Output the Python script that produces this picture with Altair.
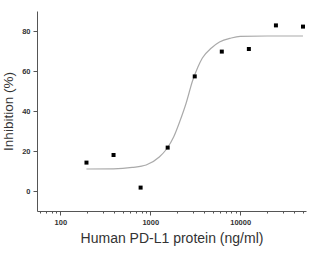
import altair as alt
import pandas as pd

# measured points
conc = [195.3, 390.6, 781.25, 1562.5, 3125, 6250, 12500, 25000, 50000]
inhib = [14.2, 18.0, 1.7, 21.7, 57.3, 69.7, 71.0, 82.8, 82.2]

# fitted curve
curve_x = [195, 390, 630, 900, 1260, 1520, 1820, 2140, 2510, 2950, 3390, 3800, 4790, 5890, 7940, 10000, 20000, 50000]
curve_y = [11.0, 11.1, 11.8, 13.0, 17.0, 21.0, 27.0, 35.0, 44.0, 55.0, 62.0, 66.5, 71.5, 74.5, 76.5, 77.3, 77.5, 77.5]

x_ticks = [m * 10 ** e for e in (1, 2, 3, 4) for m in range(1, 10) if 55 <= m * 10 ** e <= 54000]
y_ticks = [0, 10, 20, 30, 40, 50, 60, 70, 80]

pts = pd.DataFrame({"x": conc, "y": inhib})
crv = pd.DataFrame({"x": curve_x, "y": curve_y})

FONT = "Liberation Sans"
xscale = alt.Scale(type="log", domain=[55, 54000], nice=False)
yscale = alt.Scale(domain=[-10, 90], nice=False, zero=False)

xaxis = alt.Axis(
    title="Human PD-L1 protein (ng/ml)",
    values=x_ticks,
    labelExpr="(datum.value == 100 || datum.value == 1000 || datum.value == 10000) ? datum.label : ''",
    format="d",
    grid=False,
    domainColor="#555",
    tickColor="#555",
    tickSize={"condition": {"test": "datum.value == 100 || datum.value == 1000 || datum.value == 10000", "value": 4}, "value": 2},
    labelFont=FONT,
    labelFontSize=7.5,
    labelFontWeight="bold",
    labelColor="#333",
    labelPadding=3,
    titleFont=FONT,
    titleFontSize=14,
    titleFontWeight="normal",
    titleColor="#333",
    titlePadding=6,
)
yaxis = alt.Axis(
    title="Inhibition (%)",
    values=y_ticks,
    labelExpr="datum.value % 20 == 0 ? datum.label : ''",
    grid=False,
    domainColor="#555",
    tickColor="#555",
    tickSize={"condition": {"test": "datum.value % 20 == 0", "value": 4}, "value": 2},
    labelFont=FONT,
    labelFontSize=7.5,
    labelFontWeight="bold",
    labelColor="#333",
    labelPadding=3,
    titleFont=FONT,
    titleFontSize=13.5,
    titleFontWeight="normal",
    titleColor="#333",
    titlePadding=6,
)

line = alt.Chart(crv).mark_line(color="#aaaaaa", strokeWidth=1.2, interpolate="monotone").encode(
    x=alt.X("x:Q", scale=xscale, axis=xaxis),
    y=alt.Y("y:Q", scale=yscale, axis=yaxis),
)
points = alt.Chart(pts).mark_square(color="black", size=16, opacity=1).encode(
    x=alt.X("x:Q", scale=xscale),
    y=alt.Y("y:Q", scale=yscale),
)

chart = (line + points).properties(
    width=269,
    height=200,
    autosize=alt.AutoSizeParams(type="none"),
    padding={"left": 37, "top": 11, "right": 13, "bottom": 45},
    background="white",
).configure_view(stroke=None)

chart.save("out.html", embed_options={"renderer": "svg", "actions": False})
